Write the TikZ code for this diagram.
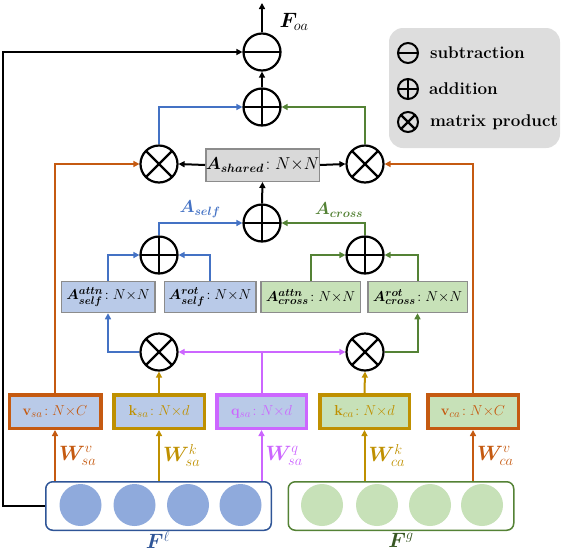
\documentclass[tikz,border=0pt]{standalone}
\usepackage{amsmath,amssymb,bm}
\usetikzlibrary{arrows.meta,calc}

\definecolor{sablue}{RGB}{68,114,196}
\definecolor{safill}{RGB}{185,202,232}
\definecolor{sadot}{RGB}{143,170,220}
\definecolor{saedge}{RGB}{47,85,151}
\definecolor{cagreen}{RGB}{84,130,53}
\definecolor{cafill}{RGB}{199,225,184}
\definecolor{caedge}{RGB}{56,87,35}
\definecolor{vorange}{RGB}{197,90,17}
\definecolor{kgold}{RGB}{191,144,0}
\definecolor{qpink}{RGB}{204,102,255}
\definecolor{boxgray}{RGB}{217,217,217}
\definecolor{edgegray}{RGB}{140,140,140}
\definecolor{leggray}{RGB}{221,221,221}

\begin{document}
\begin{tikzpicture}[x=1pt,y=-1pt,
  line width=2pt,
  arr/.style={-{Triangle[length=6pt,width=6pt]}},
  op/.style={circle,draw,line width=2.2pt,minimum size=37pt,inner sep=0pt},
  opsub/.style={op,path picture={\draw[line width=2.2pt] (path picture bounding box.west) -- (path picture bounding box.east);}},
  opadd/.style={op,path picture={\draw[line width=2.2pt] (path picture bounding box.west) -- (path picture bounding box.east)
      (path picture bounding box.north) -- (path picture bounding box.south);}},
  opmul/.style={op,path picture={\draw[line width=2.2pt] (path picture bounding box.north west) -- (path picture bounding box.south east)
      (path picture bounding box.north east) -- (path picture bounding box.south west);}},
  legop/.style={minimum size=20pt,line width=2pt},
  amat/.style={draw=edgegray,line width=1.5pt,minimum height=31pt,inner sep=0pt,font=\fontsize{15.5}{17}\selectfont},
  proj/.style={draw=#1,text=#1,line width=3.5pt,minimum height=33.5pt,inner sep=0pt,font=\fontsize{15}{17}\selectfont},
  wlab/.style={right,midway,inner sep=3pt,font=\fontsize{20}{22}\selectfont},
  biglab/.style={font=\fontsize{20}{22}\selectfont},
  feat/.style={draw=#1,fill=white,line width=1.5pt,rounded corners=7pt,minimum width=225.5pt,minimum height=48.5pt},
  legtext/.style={anchor=west,inner sep=0pt,font=\bfseries\fontsize{17}{20}\selectfont}]

\useasboundingbox (0,0) rectangle (564,552);

% Legend
\node[fill=leggray,rounded corners=14pt,minimum width=171pt,minimum height=120pt] (legend) at (474.5,88) {};
\node[opsub,legop] (legsub) at (408,53) {};
\node[opadd,legop] (legadd) at (408,89) {};
\node[opmul,legop] (legmul) at (408,122) {};
\node[legtext] at (429,53) {subtraction};
\node[legtext] at (428,89) {addition};
\node[legtext] at (429,122) {matrix product};

% Operators
\node[opsub] (sub) at (262,52) {};
\node[opadd] (addtop) at (262,107) {};
\node[opmul] (mulL) at (159,164) {};
\node[opmul] (mulR) at (365,164) {};
\node[opadd] (addmid) at (262,223) {};
\node[opadd] (addL) at (159,255) {};
\node[opadd] (addR) at (365,255) {};
\node[opmul] (mulL2) at (159,352) {};
\node[opmul] (mulR2) at (365,352) {};

% Attention maps
\node[amat,fill=boxgray,minimum width=113.5pt,minimum height=32.5pt,font=\fontsize{16.5}{18}\selectfont] (shared) at (262.5,165) {$\bm{A}_{\bm{shared}}\!:N{\times}N$};
\node[amat,fill=safill,minimum width=93.5pt] (attnself) at (108,297) {$\bm{A}^{\bm{attn}}_{\bm{self}}\!:N{\times}N$};
\node[amat,fill=safill,minimum width=91.5pt] (rotself) at (210,297) {$\bm{A}^{\bm{rot}}_{\bm{self}}\!:N{\times}N$};
\node[amat,fill=cafill,minimum width=99.5pt] (attncross) at (310.5,297) {$\bm{A}^{\bm{attn}}_{\bm{cross}}\!:N{\times}N$};
\node[amat,fill=cafill,minimum width=99.5pt] (rotcross) at (417.5,297) {$\bm{A}^{\bm{rot}}_{\bm{cross}}\!:N{\times}N$};

% Projections
\node[proj=vorange,fill=safill,minimum width=91.5pt] (vsa) at (55,411.5) {$\mathbf{v}_{sa}\!:N{\times}C$};
\node[proj=kgold,fill=safill,minimum width=90.5pt] (ksa) at (159,411.5) {$\mathbf{k}_{sa}\!:N{\times}d$};
\node[proj=qpink,fill=safill,minimum width=89.5pt] (qsa) at (261.5,411.5) {$\mathbf{q}_{sa}\!:N{\times}d$};
\node[proj=kgold,fill=cafill,minimum width=89.5pt] (kca) at (364.5,411.5) {$\mathbf{k}_{ca}\!:N{\times}d$};
\node[proj=vorange,fill=cafill,minimum width=90.5pt] (vca) at (473,411.5) {$\mathbf{v}_{ca}\!:N{\times}C$};

% Features
\node[feat=saedge] (Fl) at (158.5,506) {};
\node[feat=cagreen] (Fg) at (401,506) {};
\foreach \x in {80.5,134.5,188,240.5}
  \node[circle,fill=sadot,minimum size=42pt,inner sep=0pt] at (\x,505) {};
\foreach \x in {322,377,430,482}
  \node[circle,fill=cafill,minimum size=42pt,inner sep=0pt] at (\x,505) {};
\node[biglab,text=saedge] (Fllab) at (158,540) {$\bm{F}^{\ell}$};
\node[biglab,text=caedge] (Fglab) at (401,540) {$\bm{F}^{g}$};

% Linear projections
\draw[arr,vorange] (vsa.south |- Fl.north) -- (vsa.south) node[wlab] {$\bm{W}^{v}_{sa}$};
\draw[arr,kgold] (ksa.south |- Fl.north) -- (ksa.south) node[wlab] {$\bm{W}^{k}_{sa}$};
\draw[arr,qpink] (qsa.south |- Fl.north) -- (qsa.south) node[wlab] {$\bm{W}^{q}_{sa}$};
\draw[arr,kgold] (kca.south |- Fg.north) -- (kca.south) node[wlab] {$\bm{W}^{k}_{ca}$};
\draw[arr,vorange] (vca.south |- Fg.north) -- (vca.south) node[wlab] {$\bm{W}^{v}_{ca}$};

% Query and key products
\coordinate (qjoin) at (qsa.north |- mulL2);
\draw[qpink] (qsa.north) -- (qjoin);
\draw[arr,qpink] (qjoin) -- (mulL2.east);
\draw[arr,qpink] (qjoin) -- (mulR2.west);
\draw[arr,kgold] (ksa.north) -- (mulL2.south);
\draw[arr,kgold] (kca.north) -- (mulR2.south);

% Self branch
\draw[arr,sablue] (mulL2.west) -| (attnself.south);
\draw[arr,sablue] (attnself.north) |- (addL.west);
\draw[arr,sablue] (rotself.north) |- (addL.east);
\draw[arr,sablue] (addL.north) |- (addmid.west);
\node[text=sablue,font=\fontsize{18}{20}\selectfont] (aself) at (200,209) {$\bm{A}_{\bm{self}}$};

% Cross branch
\draw[arr,cagreen] (mulR2.east) -| (rotcross.south);
\draw[arr,cagreen] (attncross.north) |- (addR.west);
\draw[arr,cagreen] (rotcross.north) |- (addR.east);
\draw[arr,cagreen] (addR.north) |- (addmid.east);
\node[text=cagreen,font=\fontsize{18}{20}\selectfont] (across) at (339,210) {$\bm{A}_{\bm{cross}}$};

% Shared map and values
\draw[arr] (addmid.north) -- (shared.south);
\draw[arr] (shared.west) -- (mulL.east);
\draw[arr] (shared.east) -- (mulR.west);
\draw[arr,vorange] (vsa.north) |- (mulL.west);
\draw[arr,vorange] (vca.north) |- (mulR.east);
\draw[arr,sablue] (mulL.north) |- (addtop.west);
\draw[arr,cagreen] (mulR.north) |- (addtop.east);

% Output
\draw[arr] (addtop.north) -- (sub.south);
\coordinate (out) at (262,3);
\draw[arr] (sub.north) -- (out);
\node[biglab] (foa) at (294,22) {$\bm{F}_{oa}$};

% Residual
\coordinate (loop) at (3,52);
\draw[arr] (Fl.west) -| (loop) -- (sub.west);

\end{tikzpicture}
\end{document}
